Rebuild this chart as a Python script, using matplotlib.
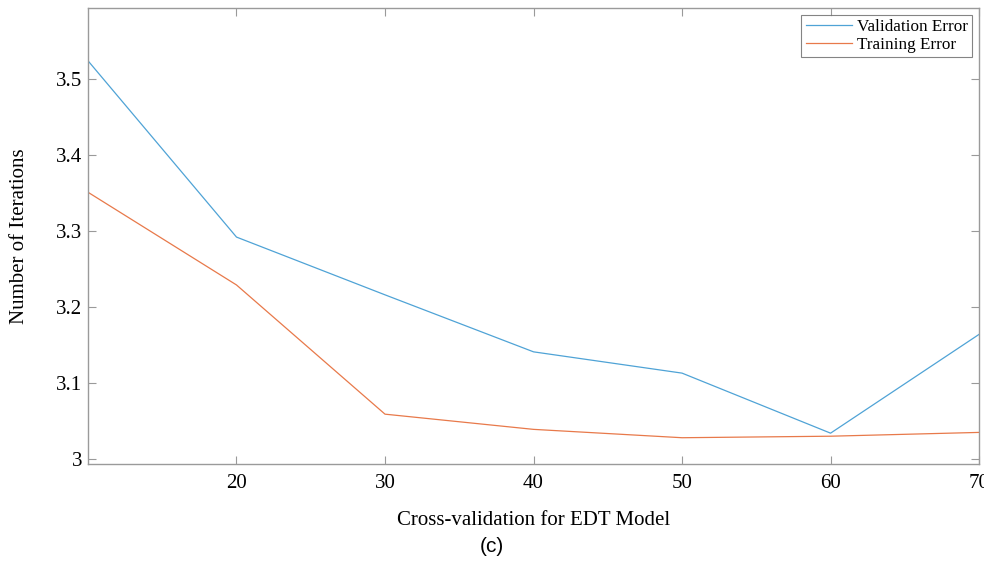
import matplotlib
matplotlib.use("Agg")
import matplotlib.pyplot as plt

x_values = [10, 20, 30, 40, 50, 60, 70]
validation_error = [3.524, 3.292, 3.216, 3.141, 3.113, 3.034, 3.164]
training_error = [3.351, 3.229, 3.059, 3.039, 3.028, 3.030, 3.035]
x_ticks = [20, 30, 40, 50, 60, 70]
y_ticks = [3.0, 3.1, 3.2, 3.3, 3.4, 3.5]
y_tick_labels = ["3", "3.1", "3.2", "3.3", "3.4", "3.5"]

serif = ["Liberation Serif", "DejaVu Serif"]
fig = plt.figure(figsize=(9.84, 5.63), dpi=100)
ax = fig.add_axes([0.0894, 0.1758, 0.9056, 0.81])

ax.plot(x_values, validation_error, color="#4fa3d6", lw=0.9, label="Validation Error")
ax.plot(x_values, training_error, color="#e8794a", lw=0.9, label="Training Error")

ax.set_xlim(10, 70)
ax.set_ylim(2.9934, 3.5934)
ax.set_xticks(x_ticks)
ax.set_xticklabels([str(t) for t in x_ticks], fontfamily=serif, fontsize=15)
ax.set_yticks(y_ticks)
ax.set_yticklabels(y_tick_labels, fontfamily=serif, fontsize=15)
ax.tick_params(direction="in", top=True, right=True, length=6, width=0.8,
               color="#9a9a9a")
ax.tick_params(axis="x", pad=7)
ax.tick_params(axis="y", pad=4)
for s in ax.spines.values():
    s.set_color("#9a9a9a")
    s.set_linewidth(1.0)

ax.set_ylabel("Number of Iterations", fontfamily=serif, fontsize=15)
ax.yaxis.set_label_coords(-0.0763, 0.5)
ax.yaxis.label.set_va("center")
ax.set_xlabel("Cross-validation for EDT Model", fontfamily=serif, fontsize=15)
ax.xaxis.set_label_coords(0.5, -0.1228)
ax.xaxis.label.set_va("center")
fig.text(0.5, 1 - 547 / 563, "(c)", ha="center", va="center",
         fontfamily=["Liberation Sans", "DejaVu Sans"], fontsize=15)

leg = ax.legend(loc="upper right", prop={"family": serif, "size": 12.3},
                frameon=True, fancybox=False, borderpad=0.25, labelspacing=0.1,
                handlelength=2.7, handletextpad=0.3, borderaxespad=0.4)
leg.get_frame().set_edgecolor("#666666")
leg.get_frame().set_linewidth(0.8)

fig.savefig("out.png", dpi=100)
